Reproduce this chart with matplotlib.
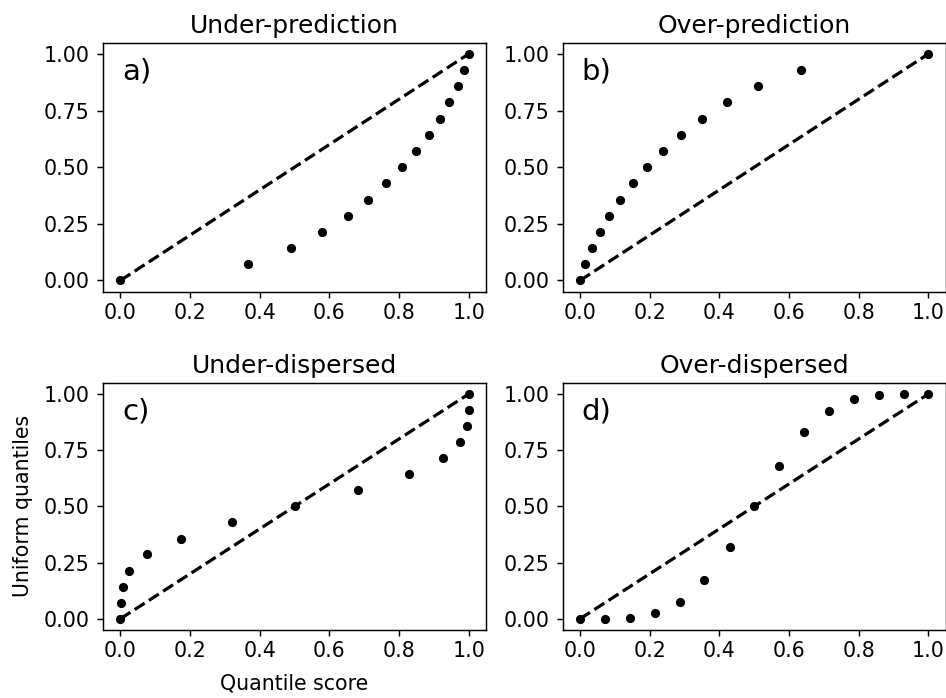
import matplotlib
matplotlib.use("Agg")
import matplotlib.pyplot as plt
import numpy as np

# uniform quantiles shared by all panels (15 levels)
uniform_q = [0.0, 0.071, 0.143, 0.214, 0.286, 0.357, 0.429, 0.5,
             0.571, 0.643, 0.714, 0.786, 0.857, 0.929, 1.0]

# quantile scores
under_pred = [0.0, 0.367, 0.490, 0.579, 0.652, 0.712, 0.763, 0.809,
              0.849, 0.886, 0.917, 0.944, 0.969, 0.987, 1.0]
over_pred = [0.0, 0.013, 0.033, 0.057, 0.084, 0.116, 0.153, 0.193,
             0.239, 0.291, 0.350, 0.422, 0.512, 0.633, 1.0]
under_disp = [0.0, 0.001, 0.006, 0.026, 0.077, 0.174, 0.320, 0.5,
              0.681, 0.829, 0.925, 0.976, 0.996, 1.0, 1.0]
# over-dispersed: quantile scores are the uniform levels, y values differ
over_disp_x = uniform_q
over_disp_y = [0.0, 0.0, 0.004, 0.027, 0.075, 0.171, 0.320, 0.5,
               0.681, 0.830, 0.926, 0.976, 0.997, 1.0, 1.0]

titles = ["Under-prediction", "Over-prediction", "Under-dispersed", "Over-dispersed"]
letters = ["a)", "b)", "c)", "d)"]
panels = [
    (under_pred, uniform_q),
    (over_pred, uniform_q),
    (under_disp, uniform_q),
    (over_disp_x, over_disp_y),
]

plt.rcParams["font.family"] = "DejaVu Sans"
fig = plt.figure(figsize=(9.46, 6.98), dpi=100)

# axes boxes in figure fractions [left, bottom, width, height]
boxes = [
    [0.1089, 0.582, 0.405, 0.357],
    [0.5948, 0.582, 0.405, 0.357],
    [0.1089, 0.0974, 0.405, 0.3543],
    [0.5948, 0.0974, 0.405, 0.3543],
]

for i, ((xs, ys), box) in enumerate(zip(panels, boxes)):
    ax = fig.add_axes(box)
    ax.plot([0, 1], [0, 1], color="black", ls="--", lw=2.3, zorder=2)
    ax.plot(xs, ys, "o", color="black", ms=5.6, zorder=3)
    ax.set_title(titles[i], fontsize=18, pad=7)
    ax.text(0.05, 0.85, letters[i], transform=ax.transAxes, fontsize=21)
    ax.set_xticks(np.arange(0, 1.01, 0.2))
    ax.set_yticks([0, 0.25, 0.5, 0.75, 1.0])
    ax.set_yticklabels(["0.00", "0.25", "0.50", "0.75", "1.00"])
    ax.set_xticklabels(["0.0", "0.2", "0.4", "0.6", "0.8", "1.0"])
    ax.tick_params(labelsize=14.8, length=4.6, width=1.05)
    ax.tick_params(axis="y", pad=5)
    for sp in ax.spines.values():
        sp.set_linewidth(1.05)
    if i == 2:
        ax.set_xlabel("Quantile score", fontsize=14.8, labelpad=9)
        ax.set_ylabel("Uniform quantiles", fontsize=14.8, labelpad=8)

fig.savefig("out.png", dpi=100)
